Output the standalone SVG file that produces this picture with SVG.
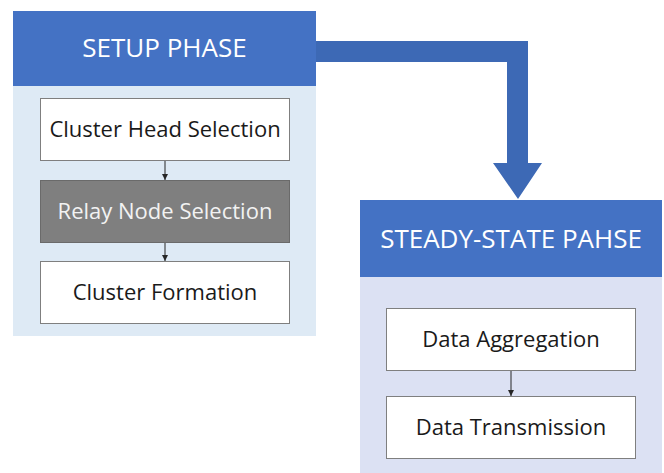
<svg xmlns="http://www.w3.org/2000/svg" width="664" height="473" viewBox="0 0 664 473">
<style>
.hdr{fill:#4472c4}
.pnl1{fill:#deeaf5}
.pnl2{fill:#dce1f3}
.box{fill:#ffffff;stroke:#7f7f7f;stroke-width:1}
.gbox{fill:#7f7f7f;stroke:#6a6a6a;stroke-width:1}
.t{font-family:"Open Sans","Liberation Sans",sans-serif;text-anchor:middle}
.ht{fill:#ffffff;font-size:26px}
.bt{fill:#1a1a1a;font-size:22px}
.wt{fill:#f2f2f2;font-size:22px}
.conn{stroke:#262626;stroke-width:1;fill:none;marker-end:url(#ah)}
</style>
<defs>
<marker id="ah" viewBox="0 0 6 6" refX="6" refY="3" markerWidth="6" markerHeight="6" markerUnits="userSpaceOnUse" orient="auto">
<path d="M0,0 L6,3 L0,6 Z" fill="#262626"/>
</marker>
</defs>
<g id="setup-phase">
<rect class="pnl1" x="13" y="86" width="303" height="250"/>
<rect class="hdr" x="13" y="11" width="303" height="75"/>
<text class="t ht" x="164.5" y="57">SETUP PHASE</text>
</g>
<g id="cluster-head-selection">
<rect class="box" x="40.5" y="98.5" width="249" height="62"/>
<text class="t bt" x="165" y="137">Cluster Head Selection</text>
</g>
<g id="relay-node-selection">
<rect class="gbox" x="40.5" y="180.5" width="249" height="62"/>
<text class="t wt" x="165" y="219">Relay Node Selection</text>
</g>
<g id="cluster-formation">
<rect class="box" x="40.5" y="261.5" width="249" height="62"/>
<text class="t bt" x="165" y="300">Cluster Formation</text>
</g>
<g id="steady-state-phase">
<rect class="pnl2" x="360" y="277" width="302" height="196"/>
<rect class="hdr" x="360" y="200" width="302" height="77"/>
<text class="t ht" x="511" y="248">STEADY-STATE PAHSE</text>
</g>
<g id="data-aggregation">
<rect class="box" x="386.5" y="308.5" width="249" height="62"/>
<text class="t bt" x="511" y="347">Data Aggregation</text>
</g>
<g id="data-transmission">
<rect class="box" x="386.5" y="396.5" width="249" height="62"/>
<text class="t bt" x="511" y="435">Data Transmission</text>
</g>
<g id="connectors">
<path d="M316,41 H528 V163 H542 L518,199 L493,163 H507 V62 H316 Z" fill="#3d69b5"/>
<line class="conn" x1="165" y1="161" x2="165" y2="180"/>
<line class="conn" x1="165" y1="243" x2="165" y2="261"/>
<line class="conn" x1="511" y1="371" x2="511" y2="396"/>
</g>
</svg>
